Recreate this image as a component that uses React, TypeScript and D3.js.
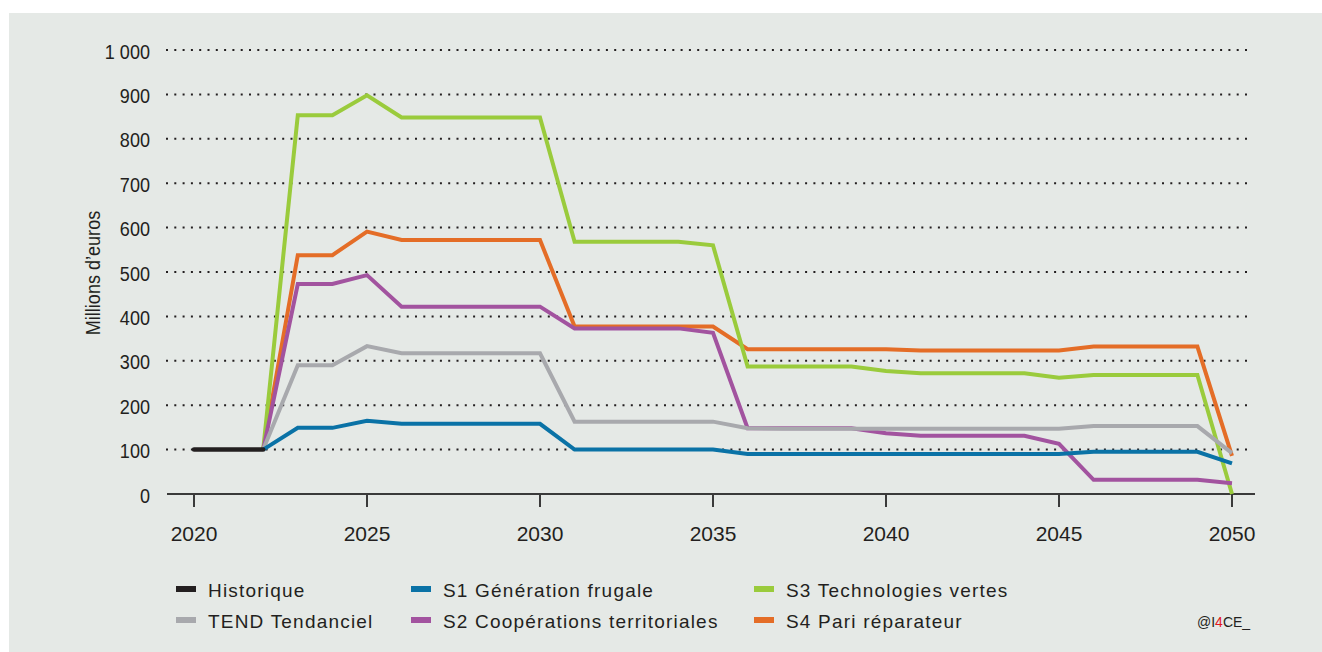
import React from "react";
import * as d3 from "d3";

const histYears = [2020, 2021, 2022];
const histValues = [100, 100, 100];

const scenYears = d3.range(2022, 2051);

const tendValues = [100, 290, 290, 333, 317, 317, 317, 317, 317, 163, 163, 163, 163, 163, 148, 147, 147, 147, 147, 147, 147, 147, 147, 147, 153, 153, 153, 153, 92];
const s1Values = [100, 149, 149, 165, 158, 158, 158, 158, 158, 100, 100, 100, 100, 100, 90, 90, 90, 90, 90, 90, 90, 90, 90, 90, 95, 95, 95, 95, 69];
const s2Values = [100, 473, 473, 493, 422, 422, 422, 422, 422, 373, 373, 373, 373, 363, 148, 148, 148, 148, 137, 131, 131, 131, 131, 113, 32, 32, 32, 32, 24];
const s3Values = [100, 853, 853, 898, 848, 848, 848, 848, 848, 568, 568, 568, 568, 560, 287, 287, 287, 287, 277, 272, 272, 272, 272, 262, 268, 268, 268, 268, 0];
const s4Values = [100, 538, 538, 591, 572, 572, 572, 572, 572, 377, 377, 377, 377, 377, 326, 326, 326, 326, 326, 323, 323, 323, 323, 323, 332, 332, 332, 332, 86];

const yTicks = [0, 100, 200, 300, 400, 500, 600, 700, 800, 900, 1000];
const xTicks = [2020, 2025, 2030, 2035, 2040, 2045, 2050];

const legendNames = [
  "Historique",
  "S1 Génération frugale",
  "S3 Technologies vertes",
  "TEND Tendanciel",
  "S2 Coopérations territoriales",
  "S4 Pari réparateur",
];

const C = {
  hist: "#231f20",
  tend: "#a8a9ad",
  s1: "#0a72a6",
  s2: "#a2539f",
  s3: "#9acb3c",
  s4: "#e46d27",
};

const legendColors = [C.hist, C.s1, C.s3, C.tend, C.s2, C.s4];

export default function App() {
  const x = d3.scaleLinear().domain([2020, 2050]).range([194, 1232]);
  const y = d3.scaleLinear().domain([0, 1000]).range([494, 50]);
  const line = d3
    .line<[number, number]>()
    .x((d) => x(d[0]))
    .y((d) => y(d[1]));

  const scen = (vals: number[]) => line(scenYears.map((yr, i) => [yr, vals[i]] as [number, number]));

  const series = [
    { vals: s4Values, color: C.s4 },
    { vals: s3Values, color: C.s3 },
    { vals: s2Values, color: C.s2 },
    { vals: tendValues, color: C.tend },
    { vals: s1Values, color: C.s1 },
  ];

  const sans = "'Liberation Sans', Arial, Helvetica, sans-serif";
  const textColor = "#231f20";

  const legendCols = [176, 411, 754];
  const legendRows = [589, 620];

  return (
    <svg
      width={1322}
      height={652}
      style={{ position: "absolute", left: 0, top: 0, display: "block" }}
    >
      <rect x={0} y={0} width={1322} height={652} fill="#ffffff" />
      <rect x={9} y={13} width={1313} height={639} fill="#e5e9e6" />

      {/* gridlines */}
      {yTicks.filter((t) => t > 0).map((t) => (
        <line
          key={"g" + t}
          x1={166}
          x2={1252}
          y1={y(t)}
          y2={y(t)}
          stroke={textColor}
          strokeWidth={2}
          strokeDasharray="2 6.3"
        />
      ))}

      {/* y tick labels */}
      {yTicks.map((t) => (
        <text
          key={"yl" + t}
          transform={`translate(150, ${y(t) + 8.5}) scale(0.86, 1)`}
          textAnchor="end"
          fontFamily={sans}
          fontSize={21}
          fill={textColor}
        >
          {t === 1000 ? "1 000" : String(t)}
        </text>
      ))}

      <text
        transform={`translate(100, 273) rotate(-90) scale(0.86, 1)`}
        textAnchor="middle"
        fontFamily={sans}
        fontSize={21}
        fill={textColor}
      >
        Millions d’euros
      </text>

      {/* x axis */}
      <line x1={167} x2={1255} y1={494} y2={494} stroke="#3a3a3a" strokeWidth={2} />
      {xTicks.map((t) => (
        <g key={"xt" + t}>
          <line x1={x(t)} x2={x(t)} y1={494} y2={507} stroke="#3a3a3a" strokeWidth={2} />
          <text
            x={x(t)}
            y={541}
            textAnchor="middle"
            fontFamily={sans}
            fontSize={21}
            fill={textColor}
          >
            {t}
          </text>
        </g>
      ))}

      {/* series */}
      {series.map((s, i) => (
        <path
          key={"s" + i}
          d={scen(s.vals) || ""}
          fill="none"
          stroke={s.color}
          strokeWidth={4}
          strokeLinejoin="miter"
        />
      ))}
      <path
        d={line(histYears.map((yr, i) => [yr, histValues[i]] as [number, number])) || ""}
        fill="none"
        stroke={C.hist}
        strokeWidth={4.5}
        strokeLinecap="round"
      />

      {/* legend */}
      {legendNames.map((name, i) => {
        const col = i % 3;
        const row = Math.floor(i / 3);
        const lx = legendCols[col];
        const ly = legendRows[row];
        return (
          <g key={"lg" + i}>
            <rect x={lx} y={ly - 3} width={20} height={6} fill={legendColors[i]} />
            <text
              x={lx + 32}
              y={ly + 8}
              fontFamily={sans}
              fontSize={19}
              letterSpacing={1.2}
              fill={textColor}
            >
              {name}
            </text>
          </g>
        );
      })}

      <text x={1197} y={627} fontFamily={sans} fontSize={14} fill={textColor}>
        @I<tspan fill="#e3171e">4</tspan>CE_
      </text>
    </svg>
  );
}
